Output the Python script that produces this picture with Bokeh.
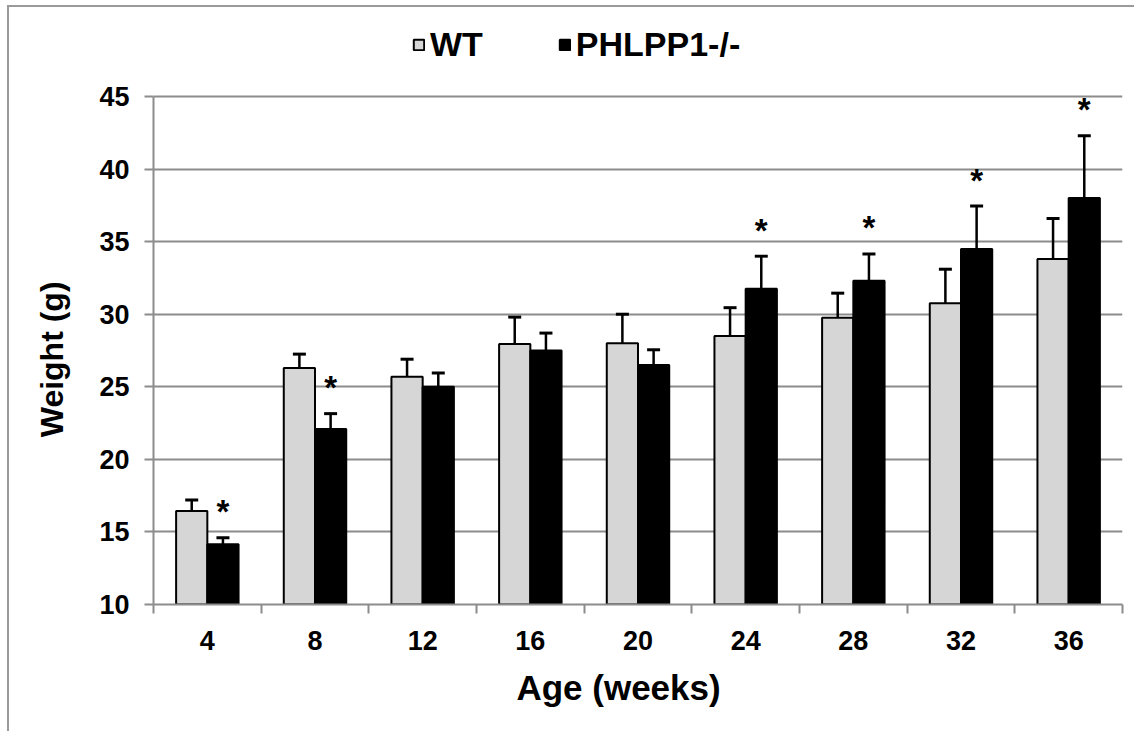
import numpy as np
from bokeh.plotting import figure
from bokeh.models import (ColumnDataSource, Range1d, FixedTicker, Whisker, TeeHead,
                          Legend, LegendItem)
from bokeh.embed import file_html
from bokeh.resources import INLINE

# Body weight by age (weeks), mean with upward SD bars
ages = ["4", "8", "12", "16", "20", "24", "28", "32", "36"]
wt_mean = [16.45, 26.3, 25.7, 27.95, 28.0, 28.5, 29.75, 30.75, 33.8]
wt_err = [0.75, 0.95, 1.2, 1.85, 2.0, 1.95, 1.7, 2.35, 2.8]
ko_mean = [14.15, 22.1, 25.0, 27.5, 26.5, 31.75, 32.3, 34.5, 38.0]
ko_err = [0.45, 1.05, 0.95, 1.2, 1.05, 2.25, 1.85, 2.95, 4.3]
significant = [True, True, False, False, False, True, True, True, True]
y_ticks = [10, 15, 20, 25, 30, 35, 40, 45]

FONT = "Liberation Sans"
GRID = "#8c8c8c"
BAR_W = 0.29
OFF = 0.145
NBSP = "\u00a0"

# pixel layout of the figure (inside its 2px top/left border)
FIG_W, FIG_H = 1127, 726
AXIS_TOP_PX = 89          # where the 45 g gridline sits
FRAME_BOTTOM_PX = 597     # where the x axis sits
px_per_unit = (FRAME_BOTTOM_PX - AXIS_TOP_PX) / (y_ticks[-1] - y_ticks[0])
y_end = y_ticks[-1] + AXIS_TOP_PX / px_per_unit   # headroom for the legend

centers = np.arange(len(ages)) + 0.5

wt_src = ColumnDataSource(dict(
    x=centers - OFF, top=wt_mean,
    upper=np.array(wt_mean) + np.array(wt_err)))
ko_src = ColumnDataSource(dict(
    x=centers + OFF, top=ko_mean,
    upper=np.array(ko_mean) + np.array(ko_err)))

p = figure(width=FIG_W, height=FIG_H, output_backend="svg", toolbar_location=None,
           x_range=Range1d(0, len(ages)), y_range=Range1d(y_ticks[0], y_end),
           min_border_left=144, min_border_right=14,
           min_border_top=0, min_border_bottom=FIG_H - FRAME_BOTTOM_PX)
p.styles = {"margin-left": "7px", "margin-top": "5px",
            "border-top": "2px solid #9a9a9a", "border-left": "2px solid #9a9a9a"}
p.outline_line_color = None
p.background_fill_color = "white"
p.border_fill_color = "white"

# horizontal gridlines only
p.xgrid.visible = False
p.ygrid.grid_line_color = GRID
p.ygrid.grid_line_width = 2
p.ygrid.ticker = FixedTicker(ticks=y_ticks[1:])

# y axis (line limited to the tick span; title nudged towards the bars' centre)
p.yaxis.ticker = FixedTicker(ticks=y_ticks)
p.yaxis.bounds = (y_ticks[0], y_ticks[-1])
p.yaxis.axis_line_color = GRID
p.yaxis.axis_line_width = 2
p.yaxis.major_tick_line_color = GRID
p.yaxis.major_tick_line_width = 2
p.yaxis.major_tick_out = 9
p.yaxis.major_tick_in = 0
p.yaxis.minor_tick_line_color = None
p.yaxis.major_label_text_font = FONT
p.yaxis.major_label_text_font_style = "bold"
p.yaxis.major_label_text_font_size = "27px"
p.yaxis.major_label_text_color = "black"
p.yaxis.major_label_standoff = 15
p.yaxis.axis_label = "Weight (g)" + NBSP * 12
p.yaxis.axis_label_text_font = FONT
p.yaxis.axis_label_text_font_style = "bold"
p.yaxis.axis_label_text_font_size = "32px"
p.yaxis.axis_label_text_color = "black"
p.yaxis.axis_label_standoff = 26

# x axis: labels at group centres, ticks at group boundaries
p.xaxis.ticker = FixedTicker(ticks=list(centers),
                             minor_ticks=list(range(len(ages) + 1)))
p.xaxis.major_label_overrides = {float(c): a for c, a in zip(centers, ages)}
p.xaxis.axis_line_color = GRID
p.xaxis.axis_line_width = 2
p.xaxis.major_tick_line_color = None
p.xaxis.major_tick_out = 9
p.xaxis.minor_tick_line_color = GRID
p.xaxis.minor_tick_line_width = 2
p.xaxis.minor_tick_out = 9
p.xaxis.minor_tick_in = 0
p.xaxis.major_label_text_font = FONT
p.xaxis.major_label_text_font_style = "bold"
p.xaxis.major_label_text_font_size = "27px"
p.xaxis.major_label_text_color = "black"
p.xaxis.major_label_standoff = 17
p.xaxis.axis_label = "Age (weeks)" + NBSP * 4
p.xaxis.axis_label_text_font = FONT
p.xaxis.axis_label_text_font_style = "bold"
p.xaxis.axis_label_text_font_size = "35px"
p.xaxis.axis_label_text_color = "black"
p.xaxis.axis_label_standoff = 15

# bars
wt_r = p.vbar(x="x", top="top", bottom=y_ticks[0], width=BAR_W, source=wt_src,
              fill_color="#d6d6d6", line_color="black", line_width=2)
ko_r = p.vbar(x="x", top="top", bottom=y_ticks[0], width=BAR_W, source=ko_src,
              fill_color="black", line_color="black", line_width=2)

# upward error bars
for src in (wt_src, ko_src):
    w = Whisker(base="x", lower="top", upper="upper", source=src,
                dimension="height", line_color="black", line_width=2.5,
                lower_head=None,
                upper_head=TeeHead(size=13, line_width=3, line_color="black"),
                level="glyph")
    p.add_layout(w)

# significance markers above the knockout bars
star_x = [x for x, s in zip(ko_src.data["x"], significant) if s]
star_y = [u for u, s in zip(ko_src.data["upper"], significant) if s]
p.text(x=star_x, y=star_y, text=["*"] * len(star_x),
       text_align="center", text_baseline="alphabetic", y_offset=-26,
       text_font_size="33px", text_font_style="bold", text_color="black",
       text_font={"value": FONT})

legend = Legend(items=[LegendItem(label="WT", renderers=[wt_r]),
                       LegendItem(label="PHLPP1-/-", renderers=[ko_r])],
                orientation="horizontal", location=(259, 540),
                glyph_width=13, glyph_height=13, label_standoff=5,
                spacing=75, padding=0, margin=0,
                border_line_color=None, background_fill_alpha=0,
                label_text_font=FONT, label_text_font_style="bold",
                label_text_font_size="34px", label_text_color="black")
p.add_layout(legend)

with open("out.html", "w") as f:
    f.write(file_html(p, INLINE))
